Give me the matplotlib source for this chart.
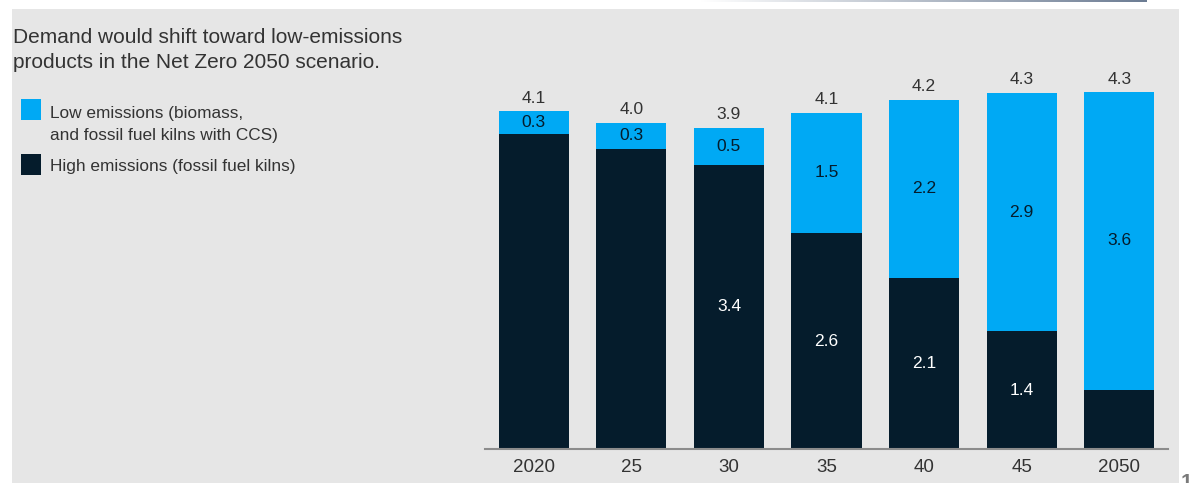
import numpy as np
import matplotlib.pyplot as plt
from matplotlib.patches import Rectangle
from matplotlib.colors import LinearSegmentedColormap

# Data
years = ['2020', '25', '30', '35', '40', '45', '2050']
high_emissions = [3.82, 3.64, 3.45, 2.62, 2.08, 1.43, 0.72]
low_emissions = [0.28, 0.32, 0.45, 1.46, 2.16, 2.89, 3.61]
total_labels = ['4.1', '4.0', '3.9', '4.1', '4.2', '4.3', '4.3']
low_labels = ['0.3', '0.3', '0.5', '1.5', '2.2', '2.9', '3.6']
high_labels = ['', '', '3.4', '2.6', '2.1', '1.4', '']

BLUE = '#00a9f4'
DARK = '#051c2c'
BG = '#e6e6e6'
TXT = '#333333'

plt.rcParams['font.family'] = ['Liberation Sans', 'DejaVu Sans']

W, H = 1197, 483
fig = plt.figure(figsize=(W / 100, H / 100), dpi=100)
fig.patch.set_facecolor('white')

def px(x, y):
    # pixel (from top-left) -> figure fraction
    return x / W, (H - y) / H

# grey panel behind everything
fig.patches.append(Rectangle(px(12, H), (1179 - 12) / W, (H - 9) / H,
                             transform=fig.transFigure, facecolor=BG,
                             edgecolor='none', zorder=-5))

# faint gradient rule at the very top
gax = fig.add_axes([700 / W, (H - 2) / H, (1147 - 700) / W, 2 / H])
cmap = LinearSegmentedColormap.from_list('g', ['#ffffff', '#6c7c93'])
gax.imshow(np.linspace(0, 1, 256).reshape(1, -1), aspect='auto', cmap=cmap)
gax.axis('off')

ax = fig.add_axes([485 / W, (H - 449) / H, (1168 - 485) / W, (449 - 60) / H])
ax.set_facecolor('none')

x = np.arange(len(years))
bw = 0.718
ax.bar(x, high_emissions, bw, color=DARK, zorder=2)
ax.bar(x, low_emissions, bw, bottom=high_emissions, color=BLUE, zorder=2)

for i in range(len(years)):
    top = high_emissions[i] + low_emissions[i]
    ax.annotate(total_labels[i], (x[i], top), xytext=(0, 4), textcoords='offset points',
                ha='center', va='bottom', fontsize=12.5, color=TXT)
    ax.text(x[i], high_emissions[i] + low_emissions[i] / 2, low_labels[i],
            ha='center', va='center', fontsize=12.5, color=DARK)
    if high_labels[i]:
        ax.text(x[i], high_emissions[i] / 2, high_labels[i],
                ha='center', va='center', fontsize=12.5, color='white')

ax.set_xlim(-0.5, 6.5)
ax.set_ylim(0, 4.72)
ax.set_xticks(x)
ax.set_xticklabels(years, fontsize=13.5, color=TXT)
ax.tick_params(axis='x', length=0, pad=7)
ax.set_yticks([])
for s in ['top', 'right', 'left']:
    ax.spines[s].set_visible(False)
ax.spines['bottom'].set_color('#8c8c8c')
ax.spines['bottom'].set_linewidth(1.5)

# title and hand-made legend on the left
fig.text(*px(13, 43), 'Demand would shift toward low-emissions',
         ha='left', va='baseline', fontsize=15, color=TXT)
fig.text(*px(13, 68), 'products in the Net Zero 2050 scenario.',
         ha='left', va='baseline', fontsize=15, color=TXT)

fig.patches.append(Rectangle(px(21, 120), 20 / W, 21 / H,
                             transform=fig.transFigure, facecolor=BLUE, edgecolor='none'))
fig.patches.append(Rectangle(px(21, 175), 20 / W, 21 / H,
                             transform=fig.transFigure, facecolor=DARK, edgecolor='none'))
fig.text(*px(50, 118), 'Low emissions (biomass,',
         ha='left', va='baseline', fontsize=12.4, color=TXT)
fig.text(*px(50, 140), 'and fossil fuel kilns with CCS)',
         ha='left', va='baseline', fontsize=12.4, color=TXT)
fig.text(*px(50, 171), 'High emissions (fossil fuel kilns)',
         ha='left', va='baseline', fontsize=12.4, color=TXT)

# footnote marker, cut at the bottom edge
fig.text(*px(1181, 473), '1', ha='left', va='top', fontsize=15,
         fontweight='bold', color='#7a7a7a')

fig.savefig('out.png', dpi=100, facecolor='white')
